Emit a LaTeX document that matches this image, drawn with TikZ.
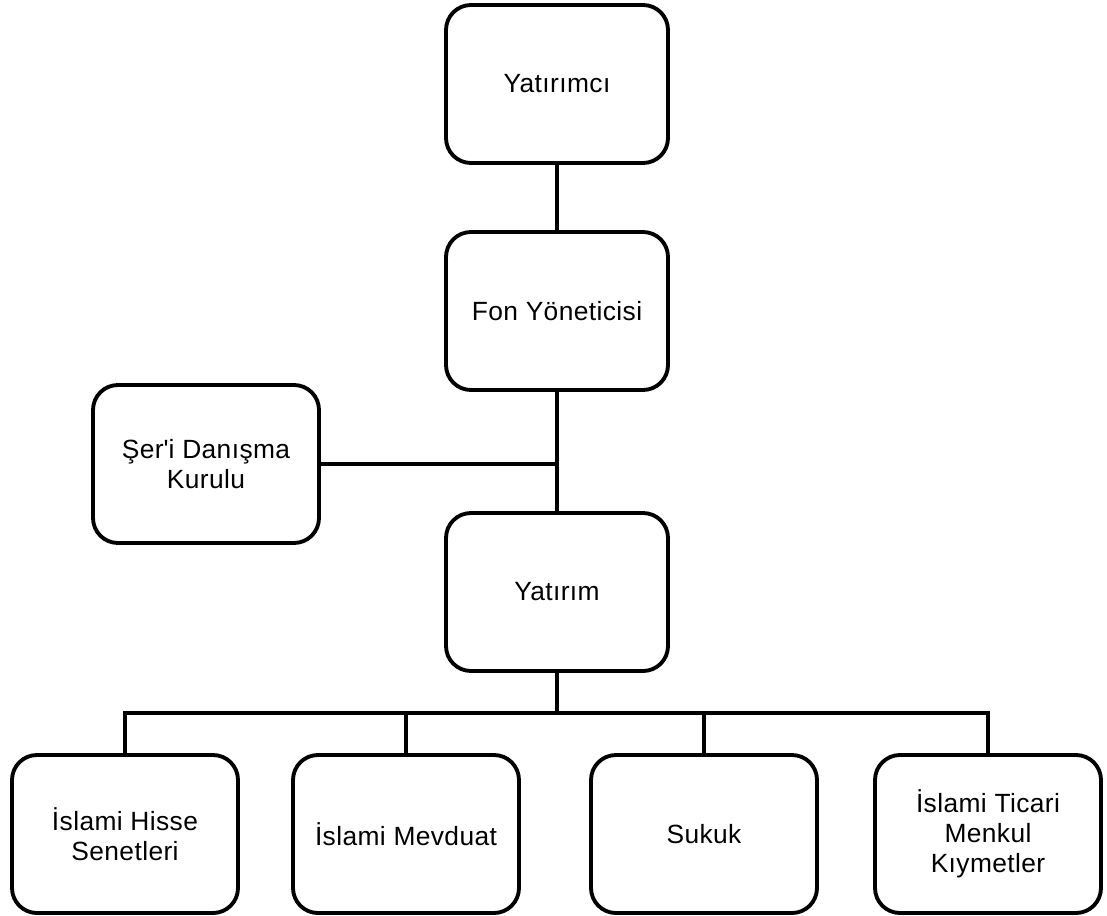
\documentclass[tikz,border=0pt]{standalone}
\usepackage{fontspec}
\setmainfont[LetterSpace=1.5]{Liberation Sans}
\usetikzlibrary{positioning}

\begin{document}
\begin{tikzpicture}[node distance=4.54cm, every node/.style={font=\fontsize{15}{17}\selectfont}]
% Styles
\tikzstyle{unit} = [rectangle, rounded corners=0.5cm, minimum width=4.44cm, minimum height=3.16cm, text centered, draw=black, line width=2.2pt, align=center]
\tikzstyle{wideunit} = [unit, minimum width=4.52cm]
\tikzstyle{link} = [line width=2.2pt]

\useasboundingbox (0,0) rectangle (22.14,-18.3);

% Nodes
\node (yatirimci) [unit] at (11.14,-1.68) {Yatırımcı};
\node (fon) [unit, below of=yatirimci] {Fon Yöneticisi};
\node (yatirim) [unit, below of=fon, yshift=-1.08cm] {Yatırım};
\node (seri) [wideunit] at (4.12,-9.28) {Şer\textquotesingle i Danışma\\Kurulu};
\node (hisse) [wideunit] at (2.50,-16.68) {İslami Hisse\\Senetleri};
\node (mevduat) [wideunit, right of=hisse, xshift=1.08cm] {İslami Mevduat};
\node (sukuk) [wideunit, right of=mevduat, xshift=1.42cm] {Sukuk};
\node (ticari) [wideunit, right of=sukuk, xshift=1.14cm] {İslami Ticari\\Menkul\\Kıymetler};

% Lines
\draw [link] (yatirimci) -- (fon);
\draw [link] (fon) -- (yatirim);
\draw [link] (seri.east) -- (seri.east -| fon.south);

% Common bus
\coordinate (bus) at (0,-14.26);
\draw [link] (yatirim.south) -- (yatirim.south |- bus);
\draw [link] (hisse.north) -- (hisse.north |- bus) -- (ticari.north |- bus) -- (ticari.north);
\draw [link] (mevduat.north) -- (mevduat.north |- bus);
\draw [link] (sukuk.north) -- (sukuk.north |- bus);
\end{tikzpicture}
\end{document}
